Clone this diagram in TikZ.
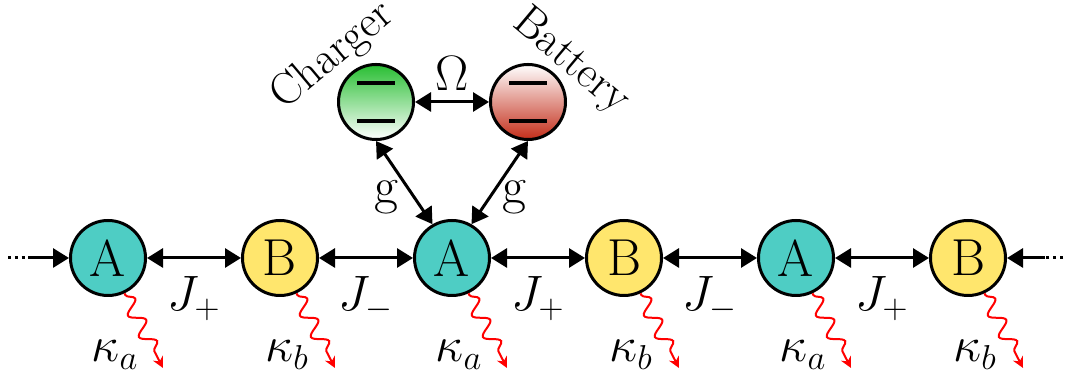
\documentclass[tikz,border=0pt]{standalone}
\usetikzlibrary{arrows.meta,decorations.pathmorphing}
\definecolor{siteA}{RGB}{78,205,196}
\definecolor{siteB}{RGB}{255,230,109}
\definecolor{chg}{RGB}{40,190,50}
\definecolor{bat}{RGB}{195,45,25}
\tikzset{
  bigfont/.style={font=\fontsize{26}{30}\selectfont},
  site/.style={circle,draw,line width=1.5pt,minimum size=37.5pt,inner sep=0pt,bigfont},
  sitea/.style={site,fill=siteA},
  siteb/.style={site,fill=siteB},
  tip/.tip={Triangle[length=8pt,width=9.5pt]},
  link/.style={line width=1.5pt,tip-tip},
  lead/.style={line width=1.5pt,-tip},
  dots/.style={line width=1.5pt,dash pattern=on 1.7pt off 1.7pt},
  decay/.style={red,line width=1pt,-{Stealth[length=5.5pt,width=5.5pt]},decorate,
    decoration={snake,amplitude=3.6pt,segment length=12pt,pre length=1pt,post length=5pt}},
  lbl/.style={bigfont,inner sep=0pt},
  tag/.style={font=\fontsize{22.5}{26}\selectfont,inner sep=0pt},
  level/.style={line width=2pt}
}
\begin{document}
\begin{tikzpicture}[x=0.5pt,y=0.5pt]
\useasboundingbox (0,0) rectangle (1065,378);

% chain of sites
\node[sitea] (s1) at (108,120) {A};
\node[siteb] (s2) at (280,120) {B};
\node[sitea] (s3) at (452,120) {A};
\node[siteb] (s4) at (624,120) {B};
\node[sitea] (s5) at (796,120) {A};
\node[siteb] (s6) at (968,120) {B};

% charger and battery
\node[site,top color=chg,bottom color=white] (ch) at (376,276) {};
\node[site,top color=white,bottom color=bat] (ba) at (528,276) {};
\foreach \n in {ch,ba}{
  \draw[level] ([xshift=-9.5pt,yshift=9.5pt]\n.center) -- ++(19pt,0);
  \draw[level] ([xshift=-9.5pt,yshift=-9.5pt]\n.center) -- ++(19pt,0);
}
\node[tag,rotate=40] (chl) at (333,322) {Charger};
\node[tag,rotate=-40] (bal) at (571,316) {Battery};

% couplings
\draw[link] (ch) -- (ba);
\node[lbl] (om) at (452,304) {$\Omega$};
\draw[link] (ch.south) -- (s3.120);
\draw[link] (ba.south) -- (s3.60);
\node[lbl] (g1) at (386,181) {g};
\node[lbl] (g2) at (514,181) {g};

\draw[link] (s1) -- (s2);
\draw[link] (s2) -- (s3);
\draw[link] (s3) -- (s4);
\draw[link] (s4) -- (s5);
\draw[link] (s5) -- (s6);
\node[lbl,anchor=base] (j1) at (194,67) {$J_+$};
\node[lbl,anchor=base] (j2) at (366,67) {$J_-$};
\node[lbl,anchor=base] (j3) at (538,67) {$J_+$};
\node[lbl,anchor=base] (j4) at (710,67) {$J_-$};
\node[lbl,anchor=base] (j5) at (882,67) {$J_+$};

% open ends of the chain
\coordinate (l0) at (8,120);
\coordinate (l1) at (32,120);
\coordinate (r0) at (1063,120);
\coordinate (r1) at (1045,120);
\draw[dots] (l0) -- (l1);
\draw[lead] (l1) -- (s1);
\draw[dots] (r0) -- (r1);
\draw[lead] (r1) -- (s6);

% losses
\foreach \i/\x/\k in {1/108/a,2/280/b,3/452/a,4/624/b,5/796/a,6/968/b}{
  \coordinate (e\i) at (\x+55,10);
  \draw[decay] (s\i.-65) -- (e\i);
  \node[lbl,anchor=base] (k\i) at (\x+7,16) {$\kappa_\k$};
}
\end{tikzpicture}
\end{document}
